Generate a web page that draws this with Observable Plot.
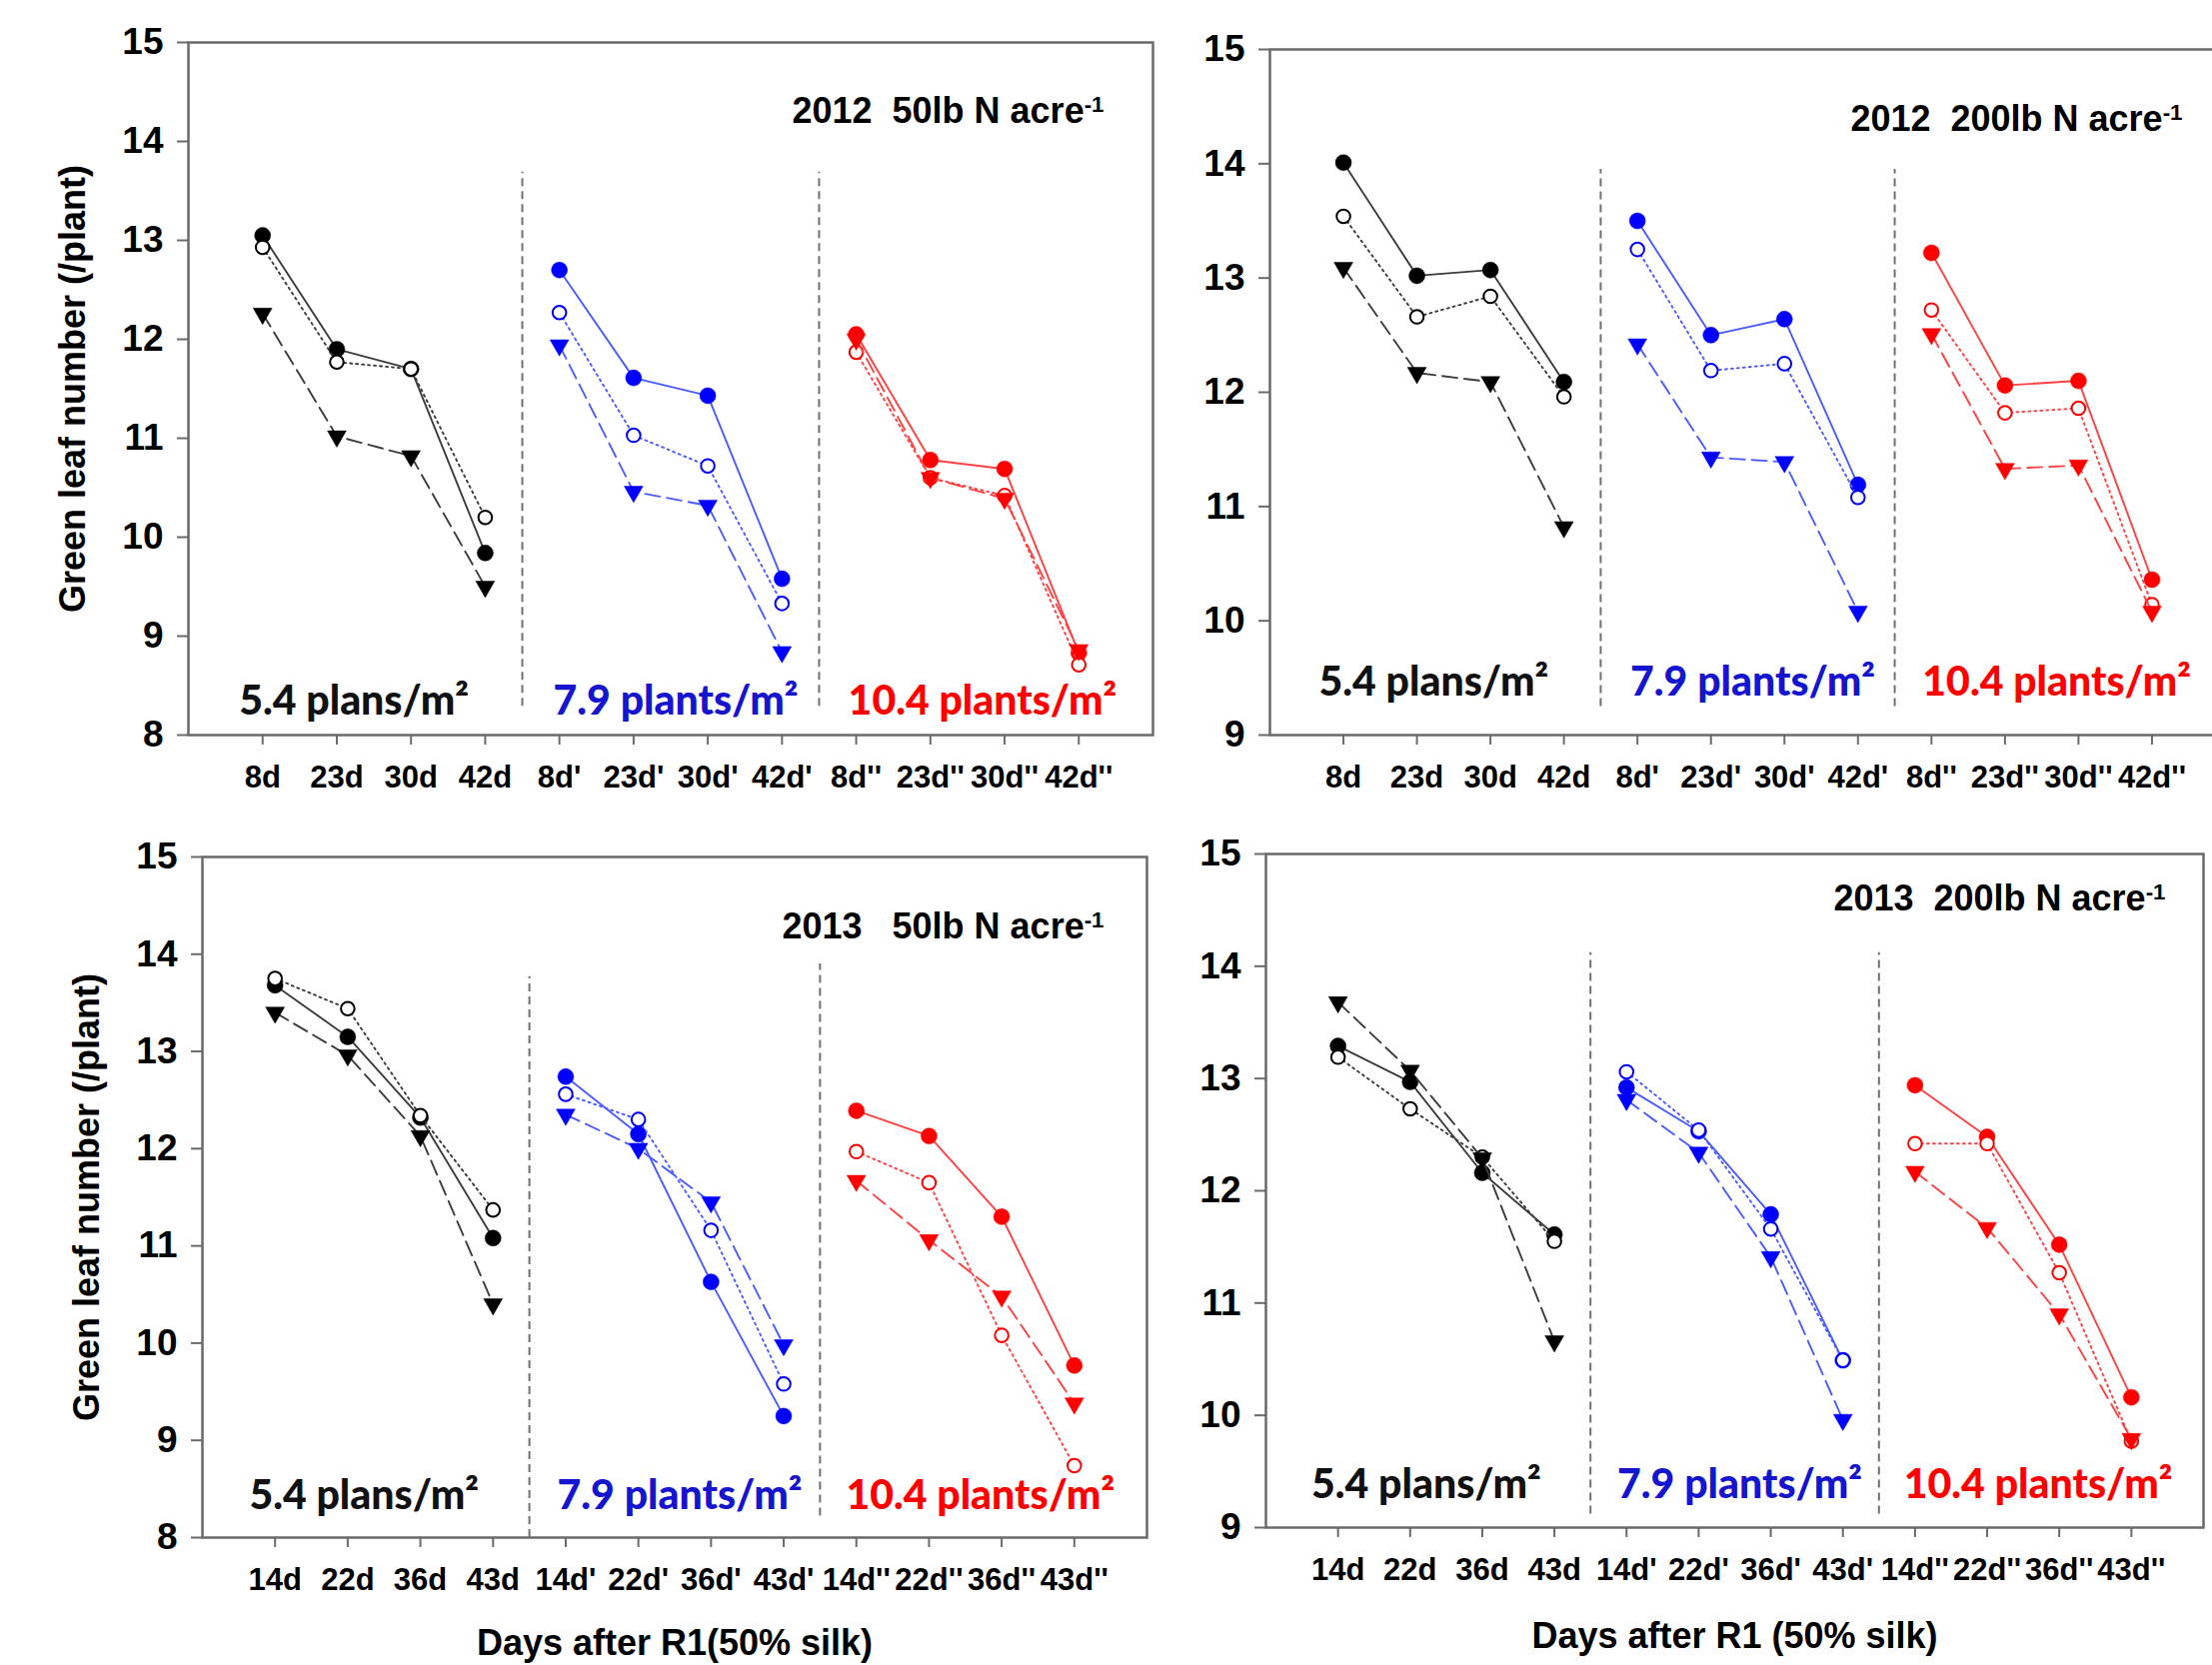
<!DOCTYPE html>
<html>
<head>
<meta charset="utf-8">
<script src="https://cdn.jsdelivr.net/npm/d3@7"></script>
<script src="https://cdn.jsdelivr.net/npm/@observablehq/plot@0.6"></script>
<style>
  html, body { margin: 0; padding: 0; background: #fff; }
  body { width: 2213px; height: 1666px; overflow: hidden; position: relative; }
  .panel { position: absolute; }
  .panel svg { max-width: none !important; overflow: visible; }
  .panel svg text { white-space: pre; }
</style>
</head>
<body>
<div id="p1" class="panel"></div>
<div id="p2" class="panel"></div>
<div id="p3" class="panel"></div>
<div id="p4" class="panel"></div>
<script>
// ---- tick labels (days after R1, one block of four per plant density) ----
const ticks2012 = ["8d", "23d", "30d", "42d", "8d'", "23d'", "30d'", "42d'", "8d''", "23d''", "30d''", "42d''"];
const ticks2013 = ["14d", "22d", "36d", "43d", "14d'", "22d'", "36d'", "43d'", "14d''", "22d''", "36d''", "43d''"];

// ---- plant densities ----
const densityLabels = ["5.4 plans/m²", "7.9 plants/m²", "10.4 plants/m²"];

// ---- green leaf number (/plant); 12 values = 3 densities x 4 sampling dates ----
// s1: filled circle / solid line, s2: open circle / dotted line, s3: down triangle / dashed line
const y2012_50_s1 = [13.05, 11.90, 11.70, 9.84, 12.70, 11.61, 11.43, 9.58, 12.05, 10.78, 10.69, 8.83];
const y2012_50_s2 = [12.93, 11.77, 11.70, 10.20, 12.27, 11.03, 10.72, 9.33, 11.87, 10.60, 10.42, 8.71];
const y2012_50_s3 = [12.26, 11.02, 10.82, 9.50, 11.94, 10.46, 10.32, 8.84, 12.00, 10.60, 10.39, 8.86];

const y2012_200_s1 = [14.01, 13.02, 13.07, 12.09, 13.50, 12.50, 12.64, 11.19, 13.22, 12.06, 12.10, 10.36];
const y2012_200_s2 = [13.54, 12.66, 12.84, 11.96, 13.25, 12.19, 12.25, 11.08, 12.72, 11.82, 11.86, 10.14];
const y2012_200_s3 = [13.09, 12.17, 12.09, 10.82, 12.42, 11.43, 11.39, 10.08, 12.51, 11.33, 11.36, 10.08];

const y2013_50_s1 = [13.68, 13.15, 12.32, 11.08, 12.74, 12.15, 10.63, 9.25, 12.39, 12.13, 11.30, 9.77];
const y2013_50_s2 = [13.75, 13.44, 12.34, 11.37, 12.56, 12.30, 11.16, 9.58, 11.97, 11.65, 10.08, 8.74];
const y2013_50_s3 = [13.40, 12.96, 12.13, 10.40, 12.35, 12.00, 11.45, 9.98, 11.67, 11.06, 10.48, 9.38];

const y2013_200_s1 = [13.29, 12.97, 12.16, 11.61, 12.92, 12.53, 11.79, 10.49, 12.94, 12.48, 11.52, 10.16];
const y2013_200_s2 = [13.19, 12.73, 12.30, 11.55, 13.06, 12.54, 11.66, 10.49, 12.42, 12.42, 11.27, 9.77];
const y2013_200_s3 = [13.68, 13.07, 12.29, 10.66, 12.81, 12.34, 11.41, 9.96, 12.17, 11.67, 10.90, 9.79];

// ---- styling ----
const FONT = "Arial, 'Liberation Sans', Helvetica, sans-serif";
const LABEL_FONT = "Lato, 'Open Sans', sans-serif";
const markColors = ["#000000", "#0000ff", "#ff0000"];
const lineColors = ["#3c3c3c", "#4a5cff", "#ff4040"];
const textColors = ["#111111", "#1515d0", "#ff0000"];
const axisGray = "#6a6a6a";
const labelNudge = [-20, 5, 15];

// per-panel layout (frame edges in page pixels)
const panels = [
  { id: "p1", title: "2012  50lb N acre", ticks: ticks2012,
    series: [y2012_50_s1, y2012_50_s2, y2012_50_s3], yMin: 8,
    frame: { L: 188, T: 42, R: 1153, B: 735 },
    seps: [[8.29, 13.69], [8.29, 13.69]],
    titleDx: -49, titleDy: 69, labelDy: -34,
    yTitle: "Green leaf number (/plant)", xTitle: null },
  { id: "p2", title: "2012  200lb N acre", ticks: ticks2012,
    series: [y2012_200_s1, y2012_200_s2, y2012_200_s3], yMin: 9,
    frame: { L: 1270, T: 49, R: 2226, B: 735 },
    seps: [[9.25, 13.95], [9.25, 13.95]],
    titleDx: -43, titleDy: 70, labelDy: -53,
    yTitle: null, xTitle: null },
  { id: "p3", title: "2013   50lb N acre", ticks: ticks2013,
    series: [y2013_50_s1, y2013_50_s2, y2013_50_s3], yMin: 8,
    frame: { L: 202, T: 857, R: 1147, B: 1538 },
    seps: [[8.0, 13.77], [8.22, 13.9]],
    titleDx: -43, titleDy: 70, labelDy: -42,
    yTitle: "Green leaf number (/plant)", xTitle: "Days after R1(50% silk)", xTitleDy: 106 },
  { id: "p4", title: "2013  200lb N acre", ticks: ticks2013,
    series: [y2013_200_s1, y2013_200_s2, y2013_200_s3], yMin: 9,
    frame: { L: 1266, T: 854, R: 2204, B: 1528 },
    seps: [[9.12, 14.12], [9.12, 14.12]],
    titleDx: -38, titleDy: 45, labelDy: -43,
    yTitle: null, xTitle: "Days after R1 (50% silk)", xTitleDy: 109 }
];

const M = { left: 180, right: 20, top: 20, bottom: 135 };

// marker/line style of each of the three series
const seriesStyle = [
  { symbol: "circle", filled: true, r: 8, rotate: 0, dash: null },
  { symbol: "circle", filled: false, r: 6.8, rotate: 0, dash: "2,4" },
  { symbol: "triangle", filled: true, r: 7, rotate: 180, dash: "15,7" }
];

for (const p of panels) {
  const W = p.frame.R - p.frame.L;
  const H = p.frame.B - p.frame.T;

  // long-format rows: one per plotted point
  const rowsBySeries = p.series.map((vals, s) =>
    vals.map((v, i) => ({ s, i, g: Math.floor(i / 4), v }))
  );

  const marks = [
    Plot.frame({ stroke: axisGray, strokeWidth: 2.5 }),
    Plot.axisY(d3.range(p.yMin, 16), {
      tickSize: 11, tickPadding: 14, fontSize: 37, fontWeight: "bold",
      tickFormat: (d) => String(d),
      stroke: axisGray, strokeWidth: 2, fill: "#000", label: null
    }),
    Plot.axisX(d3.range(12), {
      tickSize: 10, tickPadding: 20, fontSize: 31, fontWeight: "bold",
      tickFormat: (i) => p.ticks[i],
      stroke: axisGray, strokeWidth: 2, fill: "#000", label: null
    }),
    // dashed separators between density blocks
    Plot.ruleX(p.seps.map(([a, b], k) => ({ x: 4 * (k + 1) - 0.5, a, b })), {
      x: "x", y1: "a", y2: "b", stroke: "#707070", strokeWidth: 2, strokeDasharray: "8,5"
    })
  ];

  rowsBySeries.forEach((rows, s) => {
    const st = seriesStyle[s];
    marks.push(
      Plot.line(rows, {
        x: "i", y: "v", z: "g",
        stroke: (d) => lineColors[d.g],
        strokeWidth: 1.9,
        strokeDasharray: st.dash
      }),
      Plot.dot(rows, {
        x: "i", y: "v",
        symbol: st.symbol, r: st.r, rotate: st.rotate,
        fill: st.filled ? (d) => markColors[d.g] : "#ffffff",
        stroke: (d) => markColors[d.g],
        strokeWidth: st.filled ? 0.5 : 2
      })
    );
  });

  // density labels along the bottom of each block
  densityLabels.forEach((lab, g) => {
    marks.push(Plot.text([lab], {
      x: () => 4 * g + 1.5, frameAnchor: "bottom",
      dx: labelNudge[g], dy: p.labelDy, lineAnchor: "middle", textAnchor: "middle",
      fontFamily: LABEL_FONT, fontWeight: 900, fontSize: 41, fill: textColors[g]
    }));
  });

  // panel title (year and N rate)
  marks.push(Plot.text([p.title], {
    frameAnchor: "top-right", textAnchor: "end", lineAnchor: "middle",
    dx: p.titleDx, dy: p.titleDy, fontSize: 36, fontWeight: "bold", fill: "#000"
  }));

  if (p.yTitle) {
    marks.push(Plot.text([p.yTitle], {
      frameAnchor: "left", rotate: -90, dx: -115, textAnchor: "middle", lineAnchor: "middle",
      fontSize: 36, fontWeight: "bold", fill: "#000"
    }));
  }
  if (p.xTitle) {
    marks.push(Plot.text([p.xTitle], {
      frameAnchor: "bottom", dy: p.xTitleDy, textAnchor: "middle", lineAnchor: "middle",
      fontSize: 36, fontWeight: "bold", fill: "#000"
    }));
  }

  const svg = Plot.plot({
    width: M.left + W + M.right,
    height: M.top + H + M.bottom,
    marginLeft: M.left, marginRight: M.right, marginTop: M.top, marginBottom: M.bottom,
    x: { domain: [-1, 12] },
    y: { domain: [p.yMin, 15] },
    color: { type: "identity" },
    style: { fontFamily: FONT, background: "transparent", color: "#000" },
    marks
  });

  // superscript "-1" after "acre"
  d3.select(svg).selectAll("text")
    .filter(function () { return this.textContent === p.title; })
    .append("tspan").attr("dy", "-0.5em").attr("font-size", "0.62em").text("-1");

  const div = document.getElementById(p.id);
  div.style.left = (p.frame.L - M.left) + "px";
  div.style.top = (p.frame.T - M.top) + "px";
  div.style.width = (M.left + W + M.right) + "px";
  div.appendChild(svg);
}
</script>
</body>
</html>
